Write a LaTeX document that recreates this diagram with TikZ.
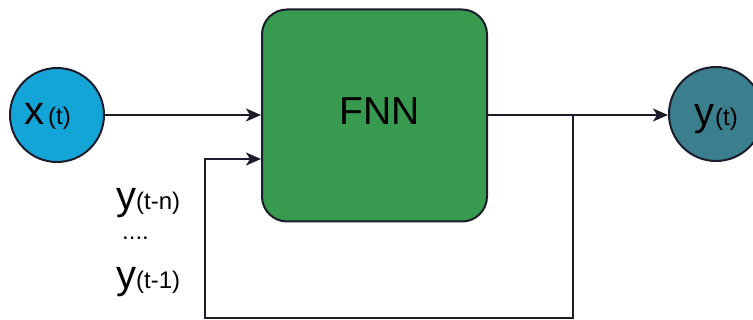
\documentclass[tikz,border=0pt]{standalone}
\usepackage{fontspec}
\setmainfont{Liberation Sans}
\usetikzlibrary{arrows.meta}
\definecolor{inblue}{HTML}{14A5D8}
\definecolor{outteal}{HTML}{3B7F8E}
\definecolor{fnngreen}{HTML}{379A4E}
\definecolor{wire}{HTML}{1C1C2C}
\newcommand{\bigsz}{\fontsize{40}{40}\selectfont}
\newcommand{\smallsz}{\fontsize{24}{24}\selectfont}
\begin{document}
\begin{tikzpicture}[x=1pt,y=-1pt,
  wire/.style={draw=wire,line width=2pt},
  flow/.style={wire,-{Stealth[length=15pt,width=13pt,inset=4pt]}},
  signal/.style={circle,draw=wire,line width=2pt,inner sep=0pt,minimum size=94pt},
  netbox/.style={draw=wire,line width=2pt,fill=fnngreen,rounded corners=25pt,
                 minimum width=225pt,minimum height=212pt,inner sep=0pt},
  lbl/.style={anchor=base west,inner sep=0pt,text=black}]
\useasboundingbox (0,0) rectangle (753,320);
\clip (0,0) rectangle (753,320);

% network block
\node[netbox] (fnn) at (374.5,115.5) {};
\node[inner sep=0pt,font=\fontsize{39}{39}\selectfont] (fnnlabel) at (380,111) {FNN};

% input and output signals
\node[signal,fill=inblue] (xin) at (57,115) {};
\node[signal,fill=outteal] (yout) at (716,114) {};
\node[lbl] (xtext) at (24,125) {\bigsz x\hspace{4pt}\smallsz(t)};
\node[lbl] (ytext) at (694,126) {\bigsz y\hspace{1pt}\smallsz(t)};

% delayed outputs fed back
\node[lbl] (ytn) at (116,210) {\bigsz y\smallsz(t-n)};
\node[lbl] (dots) at (122,240) {\smallsz ....};
\node[lbl] (yt1) at (116,289) {\bigsz y\smallsz(t-1)};

% connectors
\coordinate (tap) at (573,115);
\coordinate (tapdown) at (573,318);
\coordinate (fbcorner) at (205,318);
\coordinate (fbtop) at (205,159);

\draw[flow] (xin.east) -- (xin.east -| fnn.west);
\draw[flow] (fnn.east |- tap) -- (tap -| yout.west);
\draw[flow] (tap) -- (tapdown) -- (fbcorner) -- (fbtop) -- (fbtop -| fnn.west);
\end{tikzpicture}
\end{document}
